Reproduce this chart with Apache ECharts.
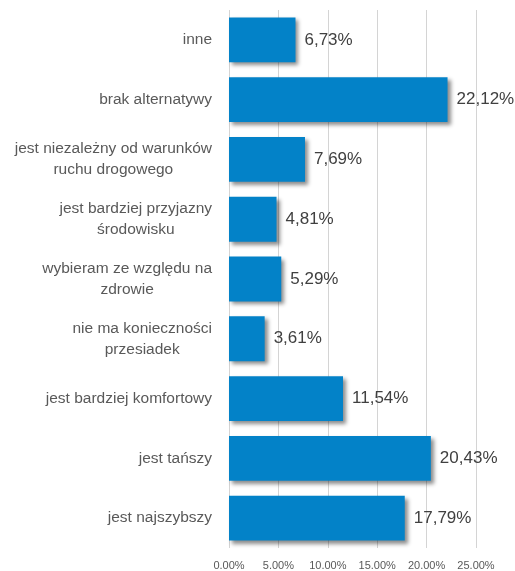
<!DOCTYPE html>
<html><head><meta charset="utf-8">
<script src="https://cdn.jsdelivr.net/npm/echarts@6/dist/echarts.min.js"></script>
<style>html,body{margin:0;padding:0;background:#fff}#c{width:515px;height:571px}</style>
</head><body><div id="c"></div>
<script>
const categories = ["jest najszybszy","jest tańszy","jest bardziej komfortowy","nie ma konieczności\nprzesiadek","wybieram ze względu na\nzdrowie","jest bardziej przyjazny\nśrodowisku","jest niezależny od warunków\nruchu drogowego","brak alternatywy","inne"];
const values = [17.79,20.43,11.54,3.61,5.29,4.81,7.69,22.12,6.73];
const tickMin = 0, tickMax = 25, tickStep = 5;
const fontN = "'Liberation Sans Narrow','Arial Narrow','Liberation Sans',Arial,sans-serif";
const chart = echarts.init(document.getElementById('c'));
chart.setOption({
  animation:false,
  grid:{left:229,right:39,top:10,bottom:21,containLabel:false},
  xAxis:{type:'value',min:tickMin,max:tickMax,interval:tickStep,
    axisLine:{show:false},axisTick:{show:false},
    splitLine:{lineStyle:{color:'#d4d4d4',width:1}},
    axisLabel:{margin:12,fontSize:11,color:'#595959',fontFamily:fontN,
      formatter:v=>v.toFixed(2)+'%'}},
  yAxis:{type:'category',data:categories,
    axisLine:{show:false},axisTick:{show:false},
    axisLabel:{margin:17,align:'right',
      formatter:v=>v.split('\n').map(s=>'{c|'+s+'}').join('\n'),
      rich:{c:{align:'center',fontSize:15.5,color:'#595959',fontFamily:fontN,lineHeight:21}}}},
  series:[{type:'bar',data:values,barCategoryGap:'25%',
    itemStyle:{color:'#0382C8',shadowColor:'rgba(0,0,0,0.45)',shadowBlur:4,shadowOffsetX:3,shadowOffsetY:3},
    label:{show:true,position:'right',distance:9,fontSize:17,color:'#404040',fontFamily:fontN,
      formatter:p=>p.value.toFixed(2).replace('.',',')+'%'}}]
});
</script></body></html>
